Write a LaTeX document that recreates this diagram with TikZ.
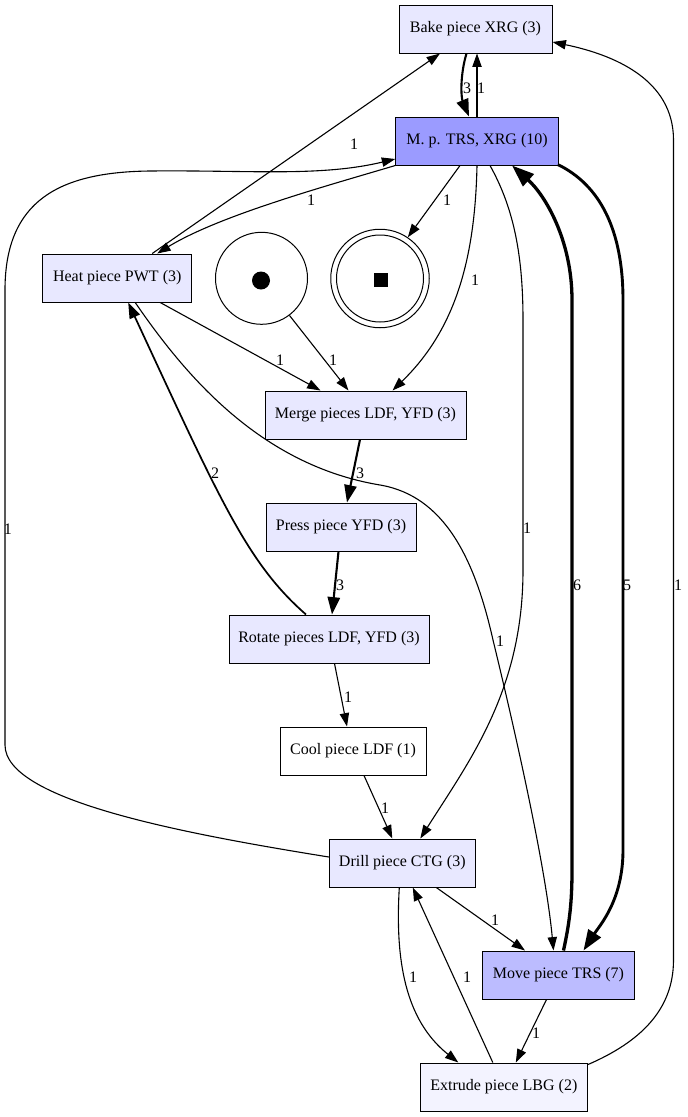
\documentclass[tikz,border=0pt]{standalone}
\usepackage{fontspec}
\setmainfont{Liberation Serif}
\usetikzlibrary{arrows.meta}
\definecolor{cten}{HTML}{9B9BFF}
\definecolor{cseven}{HTML}{BCBCFF}
\definecolor{cthree}{HTML}{E8E8FF}
\definecolor{ctwo}{HTML}{F3F3FF}
\newcommand\dfont{\fontsize{16pt}{19pt}\selectfont}
\begin{document}
\begin{tikzpicture}[x=1pt,y=-1pt,
  box/.style={draw=black,line width=1pt,minimum height=48pt,inner sep=0pt,font=\dfont},
  lbl/.style={inner sep=0pt,font=\dfont},
  arc/.style={line width=1.1pt,-{Triangle[length=9pt 4,width=6pt 3]}},
  wtwo/.style={arc,line width=1.7pt},
  wthree/.style={arc,line width=2.1pt},
  wfive/.style={arc,line width=2.9pt},
  wsix/.style={arc,line width=3.3pt}]
\useasboundingbox (0,0) rectangle (688,1117);
% nodes
\node[box,fill=cthree,minimum width=153pt] (bake) at (475.5,29) {Bake piece XRG (3)};
\node[box,fill=cten,minimum width=162.5pt] (mtrs) at (477,141) {M. p. TRS, XRG (10)};
\node[box,fill=cthree,minimum width=149pt] (heat) at (117.2,278) {Heat piece PWT (3)};
\node[circle,draw,line width=1pt,minimum size=92pt,inner sep=0pt] (start) at (261.5,278.3) {};
\node[circle,fill=black,minimum size=18pt,inner sep=0pt] (startdot) at (261,280.5) {};
\node[circle,draw,line width=1pt,minimum size=98.5pt,inner sep=0pt] (endp) at (380,278.5) {};
\node[circle,draw,line width=1pt,minimum size=87pt,inner sep=0pt] (endpin) at (380,278.5) {};
\node[fill=black,minimum size=14pt,inner sep=0pt] (endsq) at (381,280) {};
\node[box,fill=cthree,minimum width=201pt] (merge) at (365.5,415) {Merge pieces LDF, YFD (3)};
\node[box,fill=cthree,minimum width=150pt] (press) at (341,527) {Press piece YFD (3)};
\node[box,fill=cthree,minimum width=200pt] (rotate) at (329,639) {Rotate pieces LDF, YFD (3)};
\node[box,fill=white,minimum width=146pt] (cool) at (353,751) {Cool piece LDF (1)};
\node[box,fill=cthree,minimum width=146pt] (drill) at (402.3,863) {Drill piece CTG (3)};
\node[box,fill=cseven,minimum width=151.5pt] (move) at (558.5,975) {Move piece TRS (7)};
\node[box,fill=ctwo,minimum width=167.5pt] (extrude) at (503.8,1087) {Extrude piece LBG (2)};
% edges
\draw[wthree] ([xshift=-9pt]bake.south) .. controls (460,75) and (461,97) .. ([xshift=-8pt]mtrs.north);
\draw[arc] (mtrs.north) -- (mtrs.north |- bake.south);
\draw[arc] ([xshift=35pt]heat.north) -- ([xshift=-35.5pt]bake.south);
\draw[arc] (mtrs.south west) .. controls (330,185) and (220,215) .. ([xshift=40pt]heat.north);
\draw[arc] ([yshift=6pt]drill.west) .. controls (180,833) and (5,800) .. (5,745) -- (5,290)
   .. controls (5,200) and (60,172) .. (150,171) .. controls (250,170) and (320,177) .. ([yshift=-18pt]mtrs.west);
\draw[arc] ([xshift=-17pt]mtrs.south) -- (endp.56);
\draw[arc] (mtrs.south) .. controls (475,260) and (455,330) .. ([xshift=27pt]merge.north);
\draw[arc] ([xshift=43pt]heat.south) -- ([xshift=-45pt]merge.north);
\draw[arc] (start.-53) -- ([xshift=-17pt]merge.north);
\draw[wthree] ([xshift=-5.5pt]merge.south) -- ([xshift=6pt]press.north);
\draw[wthree] ([xshift=-2.5pt]press.south) -- ([xshift=3pt]rotate.north);
\draw[wtwo] ([xshift=-23pt]rotate.north) .. controls (247,563) and (220,500) .. ([xshift=11pt]heat.south);
\draw[arc] ([xshift=18pt]heat.south) .. controls (185,375) and (260,465) .. (380,485)
   .. controls (445,496) and (475,560) .. (493,640) .. controls (510,710) and (545,860) .. ([xshift=-5pt]move.north);
\draw[arc] ([xshift=13pt]mtrs.south) .. controls (512,205) and (523,250) .. (523,320) -- (523,570)
   .. controls (523,690) and (470,760) .. ([xshift=18pt]drill.north);
\draw[wsix] ([xshift=5pt]move.north) .. controls (569,925) and (572,905) .. (572,870) -- (572,300)
   .. controls (572,240) and (545,195) .. ([xshift=35pt]mtrs.south);
\draw[wfive] ([xshift=-1pt,yshift=1pt]mtrs.south east) .. controls (600,185) and (623,230) .. (623,300) -- (623,850)
   .. controls (623,900) and (600,925) .. ([xshift=25pt]move.north);
\draw[arc] ([xshift=11pt]cool.south) -- ([xshift=-10pt]drill.north);
\draw[arc] ([xshift=5.5pt]rotate.south) -- ([xshift=-6pt]cool.north);
\draw[arc] ([xshift=34pt]drill.south) -- ([xshift=-33.5pt]move.north);
\draw[arc] ([xshift=-3pt]drill.south) .. controls (395,960) and (405,1020) .. ([xshift=-45.5pt]extrude.north);
\draw[arc] ([xshift=-11pt]extrude.north) -- ([xshift=10.5pt]drill.south);
\draw[arc] ([xshift=-12pt]move.south) -- ([xshift=12pt]extrude.north);
\draw[arc] ([yshift=-2pt]extrude.north east) .. controls (640,1042) and (673.5,1010) .. (673.5,960) -- (673.5,140)
   .. controls (673.5,80) and (615,55) .. ([yshift=-13pt]bake.east);
% labels
\node[lbl] (la) at (467,88) {3};
\node[lbl] (lb) at (481,88) {1};
\node[lbl] (lc) at (354,144) {1};
\node[lbl] (ld) at (311,200) {1};
\node[lbl] (le) at (447,200) {1};
\node[lbl] (lf) at (475,280) {1};
\node[lbl] (lg) at (280,360) {1};
\node[lbl] (lh) at (333,360) {1};
\node[lbl] (li) at (360,473) {3};
\node[lbl] (lj) at (215,473) {2};
\node[lbl] (lk) at (340,585) {3};
\node[lbl] (ll) at (8,529) {1};
\node[lbl] (lm) at (527,528) {1};
\node[lbl] (ln) at (577,585) {6};
\node[lbl] (lo) at (627,585) {5};
\node[lbl] (lp) at (678,585) {1};
\node[lbl] (lq) at (500,641) {1};
\node[lbl] (lr) at (348,697) {1};
\node[lbl] (ls) at (385,808) {1};
\node[lbl] (lt) at (495,920) {1};
\node[lbl] (lu) at (413,977) {1};
\node[lbl] (lv) at (467,977) {1};
\node[lbl] (lw) at (536,1033) {1};
\end{tikzpicture}
\end{document}
